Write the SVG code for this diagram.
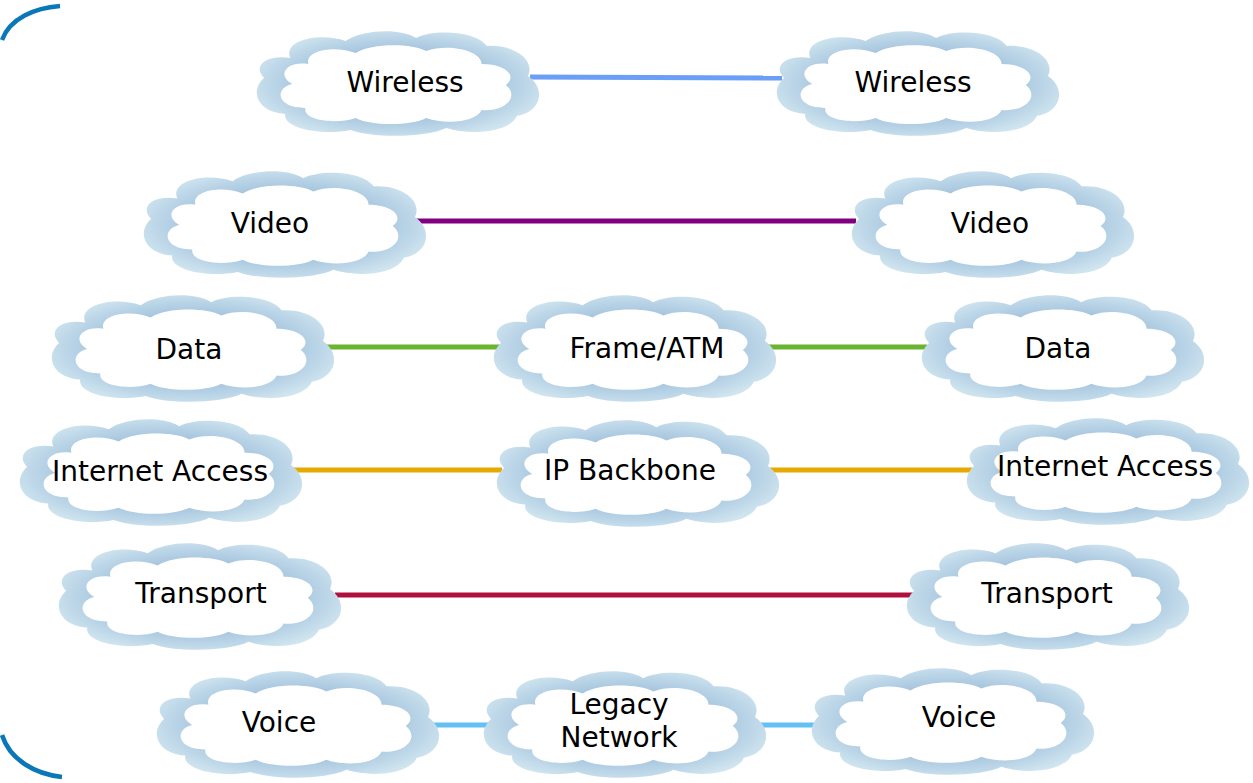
<svg xmlns="http://www.w3.org/2000/svg" xmlns:xlink="http://www.w3.org/1999/xlink" width="1253" height="783" viewBox="0 0 1253 783">
<style>
.lbl{font-family:"DejaVu Sans","Verdana",sans-serif;font-size:28px;fill:#000;text-anchor:middle;dominant-baseline:central}
.conn{fill:none;stroke-width:5}
</style>
<defs>
<radialGradient id="cg" cx="0.5" cy="0.5" r="0.55">
<stop offset="0.6" stop-color="#a6c5de"/>
<stop offset="0.82" stop-color="#bcd6e8"/>
<stop offset="1" stop-color="#d0e5ef"/>
</radialGradient>
<symbol id="cloud" viewBox="0 0 288 108" preserveAspectRatio="none">
<path fill="url(#cg)" d="M40,30 C32,12 70,4 95,13 C112,1 150,0 165,10 C182,1 225,3 235,18 C262,16 284,32 276,48 C294,60 290,84 265,88 C258,104 220,108 195,100 C175,110 120,110 100,102 C70,108 32,100 35,86 C6,84 0,62 14,50 C2,38 16,26 40,30 Z"/>
<path fill="#fff" d="M58,36 C54,22 85,17 105,25 C120,15 160,15 175,23 C196,15 230,22 230,36 C254,36 266,48 254,57 C268,68 254,84 230,82 C225,94 195,97 175,90 C160,98 120,98 105,90 C84,97 52,92 55,80 C26,80 24,60 42,56 C26,47 36,33 58,36 Z"/>
</symbol>
</defs>
<path d="M60,6 C35,8 10,18 2,40 M2,735 C10,760 35,774 62,777" fill="none" stroke="#0a78b8" stroke-width="4.5"/>
<g id="connectors">
<line class="conn" x1="530" y1="77" x2="782" y2="78" stroke="#6b9ef6"/>
<line class="conn" x1="415" y1="221" x2="856" y2="221" stroke="#800080"/>
<line class="conn" x1="322" y1="347" x2="500" y2="347" stroke="#6ab42e"/>
<line class="conn" x1="768" y1="347" x2="927" y2="347" stroke="#6ab42e"/>
<line class="conn" x1="290" y1="470" x2="502" y2="470" stroke="#e6a900"/>
<line class="conn" x1="770" y1="470" x2="972" y2="470" stroke="#e6a900"/>
<line class="conn" x1="335" y1="595" x2="914" y2="595" stroke="#b0103e"/>
<line class="conn" x1="428" y1="725" x2="492" y2="725" stroke="#63c0f2"/>
<line class="conn" x1="758" y1="725" x2="818" y2="725" stroke="#63c0f2"/>
</g>
<g id="wireless-left"><use href="#cloud" x="250" y="28" width="290" height="108"/><text class="lbl" x="405" y="82">Wireless</text></g>
<g id="wireless-right"><use href="#cloud" x="770" y="28" width="290" height="108"/><text class="lbl" x="913" y="82">Wireless</text></g>
<g id="video-left"><use href="#cloud" x="137" y="168" width="290" height="110"/><text class="lbl" x="270" y="223">Video</text></g>
<g id="video-right"><use href="#cloud" x="845" y="168" width="290" height="110"/><text class="lbl" x="990" y="223">Video</text></g>
<g id="data-left"><use href="#cloud" x="45" y="292" width="290" height="110"/><text class="lbl" x="189" y="349">Data</text></g>
<g id="frame-atm"><use href="#cloud" x="487" y="292" width="290" height="110"/><text class="lbl" x="647" y="348">Frame/ATM</text></g>
<g id="data-right"><use href="#cloud" x="915" y="292" width="290" height="110"/><text class="lbl" x="1058" y="348">Data</text></g>
<g id="internet-left"><use href="#cloud" x="13" y="416" width="290" height="110"/><text class="lbl" x="160" y="471">Internet Access</text></g>
<g id="ip-backbone"><use href="#cloud" x="490" y="417" width="290" height="110"/><text class="lbl" x="630" y="470">IP Backbone</text></g>
<g id="internet-right"><use href="#cloud" x="960" y="415" width="290" height="110"/><text class="lbl" x="1105" y="466">Internet Access</text></g>
<g id="transport-left"><use href="#cloud" x="52" y="540" width="290" height="110"/><text class="lbl" x="201" y="593">Transport</text></g>
<g id="transport-right"><use href="#cloud" x="900" y="540" width="290" height="110"/><text class="lbl" x="1047" y="593">Transport</text></g>
<g id="voice-left"><use href="#cloud" x="150" y="668" width="290" height="110"/><text class="lbl" x="279" y="722">Voice</text></g>
<g id="legacy-network"><use href="#cloud" x="477" y="668" width="290" height="110"/><text class="lbl" x="619" y="704">Legacy</text><text class="lbl" x="619" y="737">Network</text></g>
<g id="voice-right"><use href="#cloud" x="805" y="665" width="290" height="110"/><text class="lbl" x="959" y="717">Voice</text></g>
</svg>
